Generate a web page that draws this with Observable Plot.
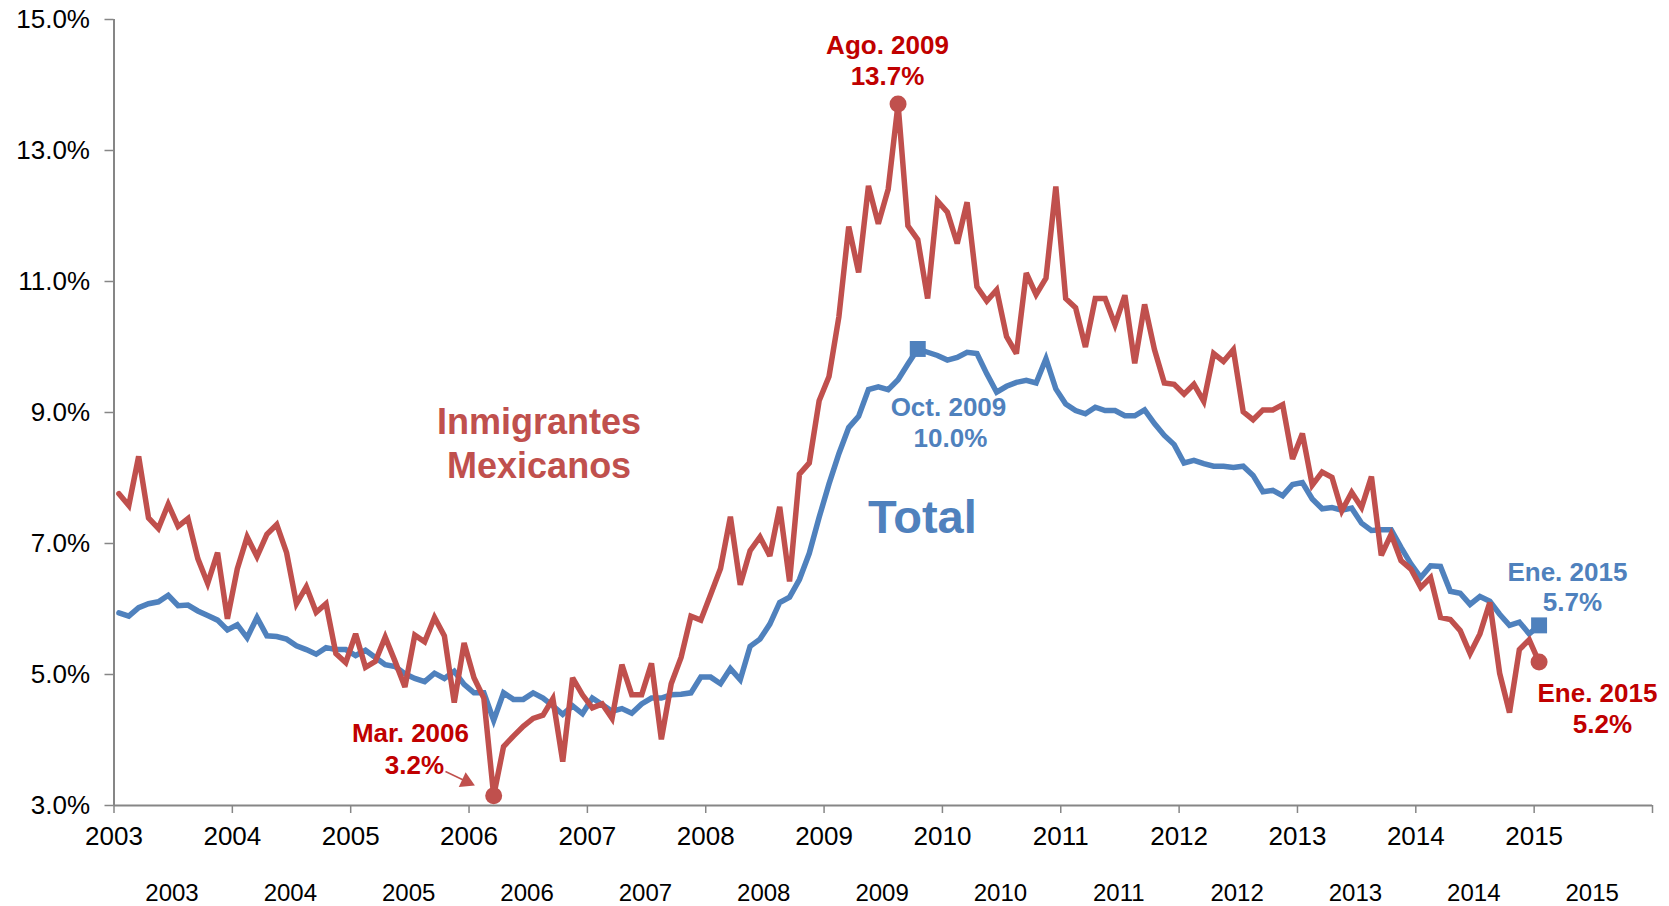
<!DOCTYPE html>
<html>
<head>
<meta charset="utf-8">
<script src="https://cdn.jsdelivr.net/npm/d3@7"></script>
<script src="https://cdn.jsdelivr.net/npm/@observablehq/plot@0.6"></script>
<style>
  html, body { margin: 0; padding: 0; background: #fff; }
  #chart svg { display: block; }
</style>
</head>
<body>
<div id="chart"></div>
<script>
// Monthly unemployment rate, Jan 2003 – Jan 2015 (145 months)
const startYear = 2003;
const totalRate = [
  5.94,5.89,6.02,6.08,6.11,6.21,6.05,6.06,5.97,5.90,5.83,5.68,
  5.76,5.56,5.87,5.59,5.58,5.54,5.44,5.38,5.31,5.41,5.38,5.38,
  5.29,5.37,5.26,5.15,5.12,5.01,4.94,4.89,5.02,4.94,5.05,4.85,
  4.72,4.72,4.30,4.72,4.62,4.62,4.72,4.64,4.52,4.39,4.52,4.40,
  4.64,4.54,4.44,4.48,4.41,4.55,4.64,4.64,4.69,4.70,4.72,4.96,
  4.96,4.86,5.09,4.92,5.43,5.54,5.77,6.10,6.18,6.45,6.85,7.40,
  7.91,8.37,8.77,8.94,9.35,9.39,9.35,9.50,9.74,9.97,9.92,9.87,
  9.80,9.84,9.92,9.90,9.59,9.31,9.40,9.46,9.49,9.45,9.82,9.36,
  9.13,9.03,8.98,9.08,9.03,9.03,8.95,8.95,9.04,8.83,8.65,8.51,
  8.23,8.27,8.22,8.18,8.18,8.16,8.18,8.04,7.79,7.81,7.73,7.90,
  7.93,7.68,7.53,7.55,7.51,7.54,7.31,7.20,7.21,7.21,6.94,6.69,
  6.48,6.66,6.65,6.27,6.24,6.07,6.19,6.12,5.92,5.75,5.80,5.62,
  5.75
];
const mexRate = [
  7.76,7.58,8.33,7.39,7.23,7.60,7.26,7.38,6.77,6.39,6.86,5.85,
  6.61,7.10,6.80,7.14,7.29,6.86,6.08,6.34,5.95,6.08,5.32,5.18,
  5.62,5.11,5.20,5.57,5.20,4.81,5.60,5.50,5.87,5.59,4.57,5.48,
  4.95,4.64,3.15,3.90,4.06,4.21,4.33,4.38,4.63,3.67,4.95,4.69,
  4.49,4.55,4.33,5.15,4.69,4.69,5.17,4.01,4.86,5.26,5.89,5.83,
  6.22,6.62,7.41,6.37,6.89,7.10,6.81,7.56,6.42,8.06,8.23,9.18,
  9.55,10.46,11.84,11.14,12.46,11.88,12.41,13.71,11.85,11.64,10.74,12.23,
  12.06,11.58,12.21,10.92,10.70,10.87,10.16,9.90,11.13,10.80,11.05,12.45,
  10.74,10.60,10.00,10.74,10.74,10.34,10.79,9.75,10.65,9.96,9.45,9.43,
  9.28,9.43,9.17,9.90,9.78,9.96,9.01,8.89,9.04,9.04,9.12,8.29,
  8.68,7.89,8.09,8.01,7.50,7.78,7.55,8.02,6.82,7.14,6.74,6.61,
  6.33,6.48,5.87,5.84,5.67,5.32,5.62,6.10,5.02,4.42,5.38,5.53,
  5.19
];
const yTicks = [3, 5, 7, 9, 11, 13, 15];
const xTickYears = d3.range(2003, 2017);
const yearLabels = d3.range(2003, 2016);

// highlighted points (month index from Jan 2003)
const mexHighlights = [38, 79, 144];
const totalHighlights = [81, 144];

// annotation texts (data coordinates)
const redNotes = [
  {text: "Ago. 2009", x: 2009.536, y: 14.608},
  {text: "13.7%",     x: 2009.536, y: 14.134},
  {text: "Mar. 2006", x: 2005.505, y: 4.089},
  {text: "3.2%",      x: 2005.539, y: 3.615},
  {text: "Ene. 2015", x: 2015.535, y: 4.714},
  {text: "5.2%",      x: 2015.577, y: 4.241}
];
const blueNotes = [
  {text: "Oct. 2009", x: 2010.051, y: 9.081},
  {text: "10.0%",     x: 2010.068, y: 8.608},
  {text: "Ene. 2015", x: 2015.281, y: 6.562},
  {text: "5.7%",      x: 2015.323, y: 6.104}
];
const seriesNames = [
  {text: "Inmigrantes", x: 2006.592, y: 8.855, c: "mex"},
  {text: "Mexicanos",   x: 2006.592, y: 8.183, c: "mex"},
  {text: "Total",       x: 2009.831, y: 7.397, c: "total"}
];
const arrowLine = [{x1: 2005.801, y1: 3.519, x2: 2005.978, y2: 3.366}];

const RED = "#C0504D", BLUE = "#4F81BD", DARKRED = "#C00000", AXIS = "#868686";
const monthX = i => startYear + (i + 0.5) / 12;

const totalData = totalRate.map((v, i) => ({x: monthX(i), v}));
const mexData = mexRate.map((v, i) => ({x: monthX(i), v}));

const chart = Plot.plot({
  width: 1669,
  height: 906,
  marginLeft: 113.5,
  marginRight: 17,
  marginTop: 19,
  marginBottom: 101,
  x: {domain: [2003, 2016], axis: null},
  y: {domain: [3, 15], axis: null},
  style: {fontFamily: "'Liberation Sans', Arial, sans-serif", background: "#fff", overflow: "visible"},
  marks: [
    // axes
    Plot.axisY(yTicks, {anchor: "left", tickSize: 9, tickPadding: 15, fontSize: 26,
      tickFormat: d => d.toFixed(1) + "%", stroke: AXIS, fill: "#000", strokeWidth: 1.5}),
    Plot.axisX(xTickYears, {anchor: "bottom", tickSize: 8, tickFormat: () => "", stroke: AXIS, strokeWidth: 1.5}),
    Plot.ruleX([2003], {stroke: AXIS, strokeWidth: 2}),
    Plot.ruleY([3], {stroke: AXIS, strokeWidth: 2}),
    Plot.text(yearLabels, {x: d => d, y: 3, dy: 31.6, text: d => String(d), fontSize: 26, fill: "#000", textAnchor: "middle", lineAnchor: "middle"}),
    Plot.text(yearLabels, {x: d => d + 0.49, y: 3, dy: 88, text: d => String(d), fontSize: 24, fill: "#000", textAnchor: "middle", lineAnchor: "middle"}),
    // series
    Plot.line(totalData, {x: "x", y: "v", stroke: BLUE, strokeWidth: 5.5, strokeLinejoin: "miter", strokeMiterlimit: 3}),
    Plot.line(mexData, {x: "x", y: "v", stroke: RED, strokeWidth: 5.5, strokeLinejoin: "miter", strokeMiterlimit: 3}),
    Plot.dot(totalHighlights, {x: i => monthX(i), y: i => totalRate[i], symbol: "square", r: 9, fill: BLUE, stroke: null}),
    Plot.dot(mexHighlights, {x: i => monthX(i), y: i => mexRate[i], symbol: "circle", r: 8.5, fill: RED, stroke: null}),
    // arrow
    Plot.link(arrowLine, {x1: "x1", y1: "y1", x2: "x2", y2: "y2", stroke: RED, strokeWidth: 1.5}),
    Plot.dot(arrowLine, {x: "x2", y: "y2", symbol: "triangle", r: 6, rotate: 115, fill: RED, stroke: null}),
    // annotations
    Plot.text(redNotes, {x: "x", y: "y", text: "text", fill: DARKRED, fontSize: 26, fontWeight: "bold", textAnchor: "middle", lineAnchor: "middle"}),
    Plot.text(blueNotes, {x: "x", y: "y", text: "text", fill: BLUE, fontSize: 26, fontWeight: "bold", textAnchor: "middle", lineAnchor: "middle"}),
    Plot.text(seriesNames.filter(d => d.c === "mex"), {x: "x", y: "y", text: "text", fill: RED, fontSize: 36, fontWeight: "bold", textAnchor: "middle", lineAnchor: "middle"}),
    Plot.text(seriesNames.filter(d => d.c === "total"), {x: "x", y: "y", text: "text", fill: BLUE, fontSize: 47, fontWeight: "bold", textAnchor: "middle", lineAnchor: "middle"})
  ]
});
document.getElementById("chart").appendChild(chart);
</script>
</body>
</html>
